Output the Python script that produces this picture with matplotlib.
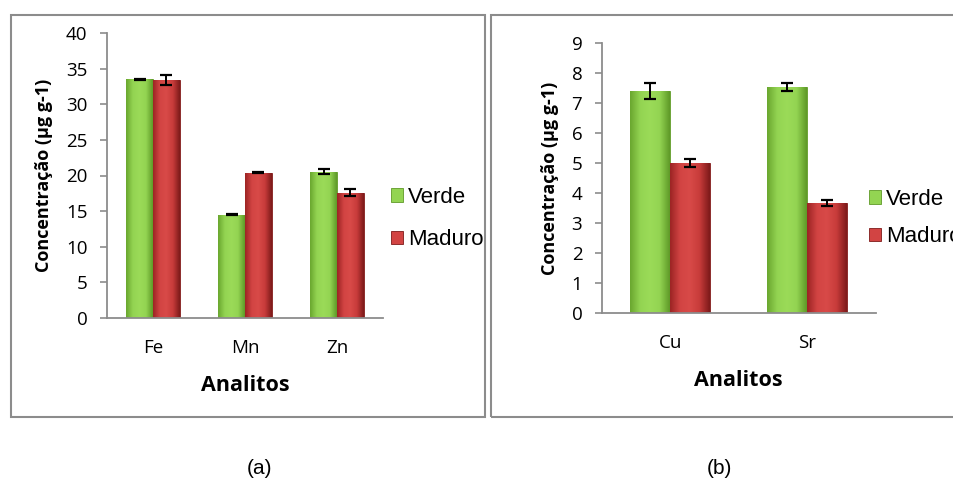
import matplotlib
matplotlib.use('Agg')
import matplotlib.pyplot as plt
import numpy as np
from matplotlib.patches import Rectangle
from matplotlib.colors import LinearSegmentedColormap

# panel (a)
cat_a = ['Fe', 'Mn', 'Zn']
verde_a = [33.5, 14.5, 20.5]
verde_a_err = [0.1, 0.1, 0.35]
maduro_a = [33.4, 20.4, 17.6]
maduro_a_err = [0.65, 0.1, 0.5]

# panel (b)
cat_b = ['Cu', 'Sr']
verde_b = [7.4, 7.55]
verde_b_err = [0.27, 0.14]
maduro_b = [5.02, 3.68]
maduro_b_err = [0.13, 0.1]

series_names = ['Verde', 'Maduro']

W, H = 954, 482
plt.rcParams['font.family'] = ['Open Sans', 'DejaVu Sans']

fig = plt.figure(figsize=(W/100, H/100), dpi=100)

green_cm = LinearSegmentedColormap.from_list('g', ['#6aa72f', '#93d452', '#9bdb58', '#93d452', '#5f9a28'])
red_cm = LinearSegmentedColormap.from_list('r', ['#9c2424', '#d24443', '#d84a48', '#c73b3a', '#7e1a1a'])

def shade(ax, bars, cmap):
    grad = np.linspace(0, 1, 64).reshape(1, -1)
    for b in bars:
        x0, y0 = b.get_x(), b.get_y()
        w, h = b.get_width(), b.get_height()
        im = ax.imshow(grad, cmap=cmap, aspect='auto', extent=(x0, x0 + w, y0, y0 + h),
                       zorder=2, interpolation='bicubic')
        im.set_clip_path(b)

def panel(rect, cats, v, ve, m, me, ymax, lbl_x, xlbl_y):
    ax = fig.add_axes(rect)
    x = np.arange(len(cats))
    w = 0.29
    b1 = ax.bar(x - w/2, v, w, color='#93d452', edgecolor='#5f9a28', lw=0.6, zorder=1, label=series_names[0])
    b2 = ax.bar(x + w/2, m, w, color='#d24443', edgecolor='#7e1a1a', lw=0.6, zorder=1, label=series_names[1])
    shade(ax, b1, green_cm)
    shade(ax, b2, red_cm)
    ax.errorbar(x - w/2, v, yerr=ve, fmt='none', ecolor='black', elinewidth=1.4, capsize=4.5, capthick=1.6, zorder=4)
    ax.errorbar(x + w/2, m, yerr=me, fmt='none', ecolor='black', elinewidth=1.4, capsize=4.5, capthick=1.6, zorder=4)
    ax.set_xlim(-0.5, len(cats) - 0.5)
    ax.set_ylim(0, ymax)
    for s in ['top', 'right']:
        ax.spines[s].set_visible(False)
    for s in ['left', 'bottom']:
        ax.spines[s].set_color('#8c8c8c')
        ax.spines[s].set_linewidth(1.3)
    ax.set_xticks(x)
    ax.set_xticklabels(cats)
    ax.tick_params(axis='x', length=0, pad=15, labelsize=13.5)
    ax.tick_params(axis='y', length=5, width=1.2, color='#8c8c8c', pad=9, labelsize=13.5)
    ax.spines['left'].set_bounds(0, ymax)
    ax.set_xlabel('Analitos', fontsize=15.5, fontweight='bold')
    ax.xaxis.set_label_coords(0.5, xlbl_y)
    ax.set_ylabel('Concentração (µg g-1)', fontsize=13, fontweight='bold')
    ax.yaxis.set_label_coords(lbl_x, 0.5)
    return ax, b1, b2

ax1, a1, a2 = panel([107/W, 1 - 318/H, 276/W, 285/H], cat_a, verde_a, verde_a_err,
                    maduro_a, maduro_a_err, 40, -0.195, -0.2)
ax1.set_yticks(np.arange(0, 41, 5))
ax2, c1, c2 = panel([601.7/W, 1 - 313.3/H, 274/W, 270/H], cat_b, verde_b, verde_b_err,
                    maduro_b, maduro_b_err, 9, -0.155, -0.21)
ax2.set_yticks(np.arange(0, 10, 1))

for ax, (lx, ly), sp in [(ax1, (391/W, 1 - 218.5/H), 0.95), (ax2, (869/W, 1 - 218/H), 0.75)]:
    ax.legend(loc='center left', bbox_to_anchor=(lx, ly), bbox_transform=fig.transFigure,
              frameon=False, handlelength=0.55, handleheight=0.55, handletextpad=0.2,
              labelspacing=sp, borderaxespad=0, borderpad=0,
              prop={'family': ['Liberation Sans', 'DejaVu Sans'], 'size': 16})

# panel frames
fig.add_artist(Rectangle((11/W, 1 - 417/H), 474/W, 402/H, transform=fig.transFigure,
                         fill=False, edgecolor='#8c8c8c', lw=1.5))
fig.add_artist(Rectangle((491/W, 1 - 417/H), 470/W, 402/H, transform=fig.transFigure,
                         fill=False, edgecolor='#8c8c8c', lw=1.5, clip_on=False))

fig.text(260/W, 1 - 469/H, '(a)', ha='center', va='center', fontsize=15,
         family=['Liberation Sans', 'DejaVu Sans'])
fig.text(719/W, 1 - 469/H, '(b)', ha='center', va='center', fontsize=15,
         family=['Liberation Sans', 'DejaVu Sans'])

fig.savefig('out.png', dpi=100)
